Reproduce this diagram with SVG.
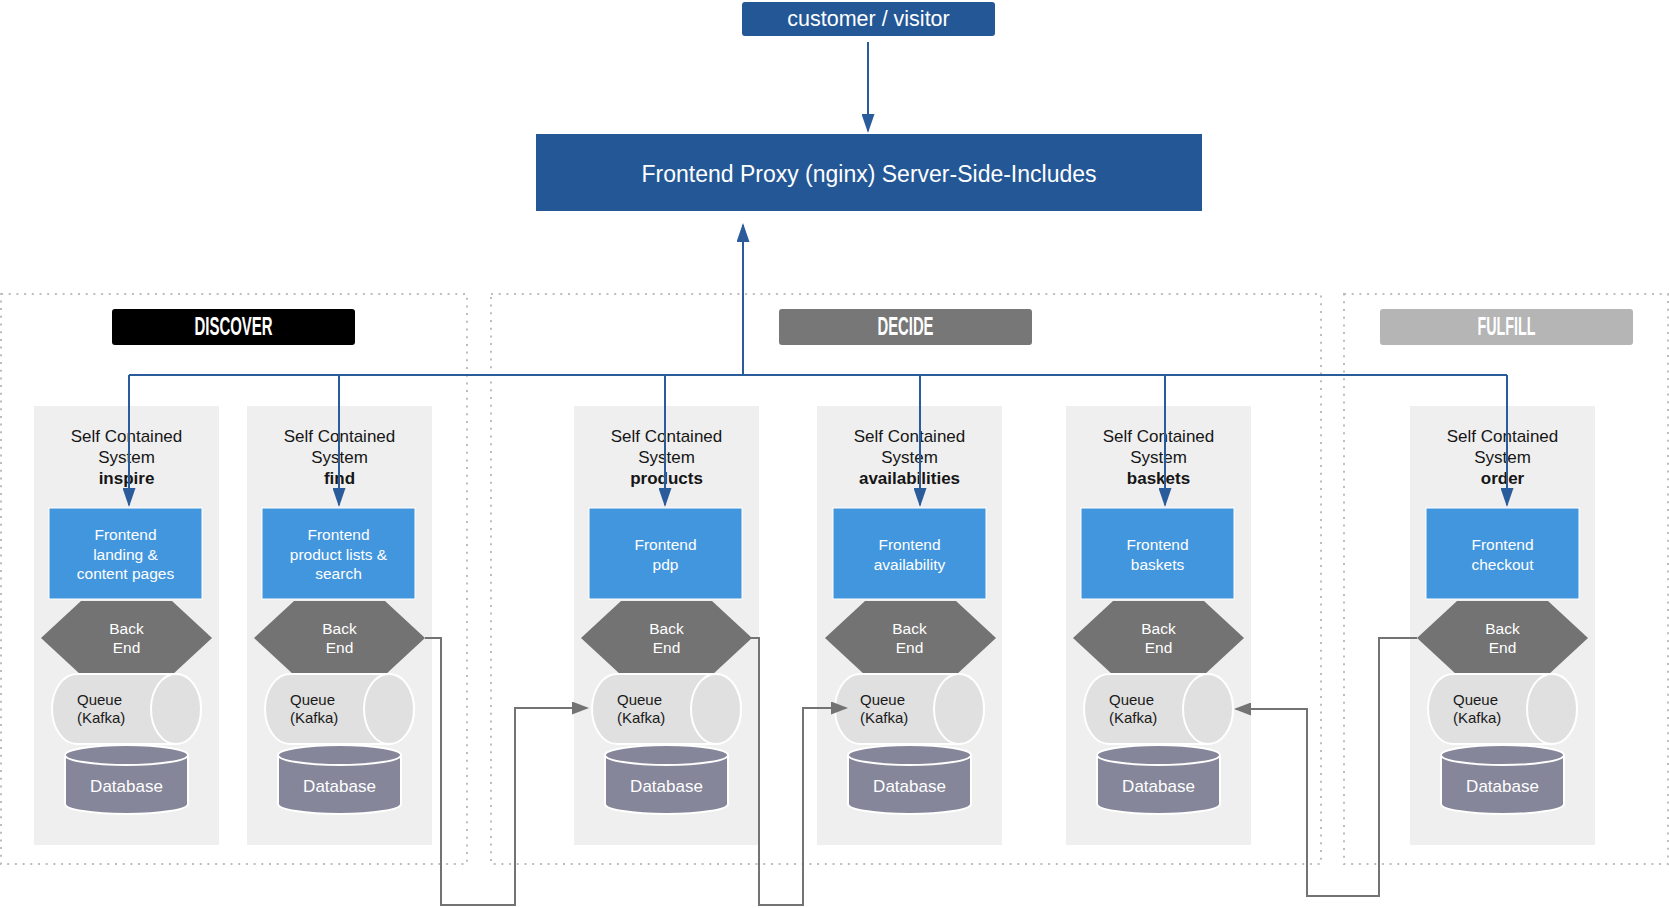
<svg xmlns="http://www.w3.org/2000/svg" width="1669" height="908" viewBox="0 0 1669 908">
  <style>
    .zone { fill: none; stroke: #bdbdbd; stroke-width: 2; stroke-dasharray: 2 5.7; }
    .phase { font-family: "Liberation Sans Narrow", "Liberation Sans", Arial, sans-serif; font-weight: bold; font-size: 25px; fill: #ffffff; text-anchor: middle; }
    .card { fill: #efefef; }
    .title { font-family: "Liberation Sans", Arial, sans-serif; font-size: 17px; fill: #161616; text-anchor: middle; }
    .title tspan.name { font-weight: bold; }
    .fe { fill: #4296de; stroke: #ffffff; stroke-width: 1; }
    .fe-t { font-family: "Liberation Sans", Arial, sans-serif; font-size: 15.5px; fill: #ffffff; text-anchor: middle; }
    .be { fill: #737373; }
    .be-t { font-family: "Liberation Sans", Arial, sans-serif; font-size: 15.5px; fill: #ffffff; text-anchor: middle; }
    .q { fill: #e0e0e0; stroke: #ffffff; stroke-width: 2; }
    .q-t { font-family: "Liberation Sans", Arial, sans-serif; font-size: 15px; fill: #1a1a1a; }
    .db { fill: #85869a; stroke: #ffffff; stroke-width: 2; }
    .db-t { font-family: "Liberation Sans", Arial, sans-serif; font-size: 17px; fill: #ffffff; text-anchor: middle; }
    .top { fill: #245796; }
    .top-t { font-family: "Liberation Sans", Arial, sans-serif; fill: #ffffff; text-anchor: middle; }
    .link { fill: none; stroke: #2a5c9c; stroke-width: 2; }
    .event { fill: none; stroke: #737373; stroke-width: 2; }
  </style>
  <defs>
    <marker id="arrow-blue" viewBox="0 0 19 13" markerWidth="19" markerHeight="13" refX="17" refY="6.5" orient="auto" markerUnits="userSpaceOnUse">
      <path d="M0,0 L19,6.5 L0,13 Z" fill="#2a5c9c"/>
    </marker>
    <marker id="arrow-grey" viewBox="0 0 17 13" markerWidth="17" markerHeight="13" refX="15" refY="6.5" orient="auto" markerUnits="userSpaceOnUse">
      <path d="M0,0 L17,6.5 L0,13 Z" fill="#737373"/>
    </marker>
  </defs>

  <rect width="1669" height="908" fill="#ffffff"/>

  <!-- phase zones -->
  <g id="zones">
    <rect class="zone" x="1" y="294" width="466" height="570"/>
    <rect class="zone" x="491" y="294" width="830" height="570"/>
    <rect class="zone" x="1344" y="294" width="324" height="570"/>
  </g>

  <g id="phase-discover">
    <rect x="112" y="309" width="243" height="36" rx="3" fill="#000000"/>
    <text class="phase" x="233.5" y="335" textLength="78" lengthAdjust="spacingAndGlyphs">DISCOVER</text>
  </g>
  <g id="phase-decide">
    <rect x="779" y="309" width="253" height="36" rx="3" fill="#777777"/>
    <text class="phase" x="905.5" y="335" textLength="56" lengthAdjust="spacingAndGlyphs">DECIDE</text>
  </g>
  <g id="phase-fulfill">
    <rect x="1380" y="309" width="253" height="36" rx="3" fill="#b5b5b5"/>
    <text class="phase" x="1506.5" y="335" textLength="58" lengthAdjust="spacingAndGlyphs">FULFILL</text>
  </g>

  <!-- entry points -->
  <g id="customer">
    <rect class="top" x="742" y="2" width="253" height="34" rx="3"/>
    <text class="top-t" x="868.5" y="26" font-size="21.5">customer / visitor</text>
  </g>
  <g id="proxy">
    <rect class="top" x="536" y="134" width="666" height="77"/>
    <text class="top-t" x="869" y="182" font-size="23">Frontend Proxy (nginx) Server-Side-Includes</text>
  </g>

  <!-- self contained systems -->
  <g id="sys-inspire" transform="translate(34,0)">
    <rect class="card" x="0" y="406" width="185" height="439"/>
    <text class="title" x="92.5" y="442">Self Contained</text>
    <text class="title" x="92.5" y="463">System</text>
    <text class="title" x="92.5" y="484"><tspan class="name">inspire</tspan></text>
    <rect class="fe" x="15" y="508" width="153" height="91"/>
    <text class="fe-t" x="91.5" y="540">Frontend</text>
    <text class="fe-t" x="91.5" y="559.5">landing &amp;</text>
    <text class="fe-t" x="91.5" y="579">content pages</text>
    <polygon class="be" points="7,638 47,601 138,601 178,638 138,675 47,675"/>
    <text class="be-t" x="92.5" y="634">Back</text>
    <text class="be-t" x="92.5" y="653">End</text>
    <path class="q" d="M43,674 L142,674 A25,35 0 0 1 142,744 L43,744 A25,35 0 0 1 43,674 Z"/>
    <ellipse class="q" cx="142" cy="709" rx="25" ry="35"/>
    <text class="q-t" x="43" y="705">Queue</text>
    <text class="q-t" x="43" y="723">(Kafka)</text>
    <path class="db" d="M31,755 L31,804 A61.5,10 0 0 0 154,804 L154,755 Z"/>
    <ellipse class="db" cx="92.5" cy="755" rx="61.5" ry="10"/>
    <text class="db-t" x="92.5" y="792">Database</text>
  </g>

  <g id="sys-find" transform="translate(247,0)">
    <rect class="card" x="0" y="406" width="185" height="439"/>
    <text class="title" x="92.5" y="442">Self Contained</text>
    <text class="title" x="92.5" y="463">System</text>
    <text class="title" x="92.5" y="484"><tspan class="name">find</tspan></text>
    <rect class="fe" x="15" y="508" width="153" height="91"/>
    <text class="fe-t" x="91.5" y="540">Frontend</text>
    <text class="fe-t" x="91.5" y="559.5">product lists &amp;</text>
    <text class="fe-t" x="91.5" y="579">search</text>
    <polygon class="be" points="7,638 47,601 138,601 178,638 138,675 47,675"/>
    <text class="be-t" x="92.5" y="634">Back</text>
    <text class="be-t" x="92.5" y="653">End</text>
    <path class="q" d="M43,674 L142,674 A25,35 0 0 1 142,744 L43,744 A25,35 0 0 1 43,674 Z"/>
    <ellipse class="q" cx="142" cy="709" rx="25" ry="35"/>
    <text class="q-t" x="43" y="705">Queue</text>
    <text class="q-t" x="43" y="723">(Kafka)</text>
    <path class="db" d="M31,755 L31,804 A61.5,10 0 0 0 154,804 L154,755 Z"/>
    <ellipse class="db" cx="92.5" cy="755" rx="61.5" ry="10"/>
    <text class="db-t" x="92.5" y="792">Database</text>
  </g>

  <g id="sys-products" transform="translate(574,0)">
    <rect class="card" x="0" y="406" width="185" height="439"/>
    <text class="title" x="92.5" y="442">Self Contained</text>
    <text class="title" x="92.5" y="463">System</text>
    <text class="title" x="92.5" y="484"><tspan class="name">products</tspan></text>
    <rect class="fe" x="15" y="508" width="153" height="91"/>
    <text class="fe-t" x="91.5" y="550">Frontend</text>
    <text class="fe-t" x="91.5" y="569.5">pdp</text>
    <polygon class="be" points="7,638 47,601 138,601 178,638 138,675 47,675"/>
    <text class="be-t" x="92.5" y="634">Back</text>
    <text class="be-t" x="92.5" y="653">End</text>
    <path class="q" d="M43,674 L142,674 A25,35 0 0 1 142,744 L43,744 A25,35 0 0 1 43,674 Z"/>
    <ellipse class="q" cx="142" cy="709" rx="25" ry="35"/>
    <text class="q-t" x="43" y="705">Queue</text>
    <text class="q-t" x="43" y="723">(Kafka)</text>
    <path class="db" d="M31,755 L31,804 A61.5,10 0 0 0 154,804 L154,755 Z"/>
    <ellipse class="db" cx="92.5" cy="755" rx="61.5" ry="10"/>
    <text class="db-t" x="92.5" y="792">Database</text>
  </g>

  <g id="sys-availabilities" transform="translate(817,0)">
    <rect class="card" x="0" y="406" width="185" height="439"/>
    <text class="title" x="92.5" y="442">Self Contained</text>
    <text class="title" x="92.5" y="463">System</text>
    <text class="title" x="92.5" y="484"><tspan class="name">availabilities</tspan></text>
    <rect class="fe" x="16" y="508" width="153" height="91"/>
    <text class="fe-t" x="92.5" y="550">Frontend</text>
    <text class="fe-t" x="92.5" y="569.5">availability</text>
    <polygon class="be" points="8,638 48,601 139,601 179,638 139,675 48,675"/>
    <text class="be-t" x="92.5" y="634">Back</text>
    <text class="be-t" x="92.5" y="653">End</text>
    <path class="q" d="M43,674 L142,674 A25,35 0 0 1 142,744 L43,744 A25,35 0 0 1 43,674 Z"/>
    <ellipse class="q" cx="142" cy="709" rx="25" ry="35"/>
    <text class="q-t" x="43" y="705">Queue</text>
    <text class="q-t" x="43" y="723">(Kafka)</text>
    <path class="db" d="M31,755 L31,804 A61.5,10 0 0 0 154,804 L154,755 Z"/>
    <ellipse class="db" cx="92.5" cy="755" rx="61.5" ry="10"/>
    <text class="db-t" x="92.5" y="792">Database</text>
  </g>

  <g id="sys-baskets" transform="translate(1066,0)">
    <rect class="card" x="0" y="406" width="185" height="439"/>
    <text class="title" x="92.5" y="442">Self Contained</text>
    <text class="title" x="92.5" y="463">System</text>
    <text class="title" x="92.5" y="484"><tspan class="name">baskets</tspan></text>
    <rect class="fe" x="15" y="508" width="153" height="91"/>
    <text class="fe-t" x="91.5" y="550">Frontend</text>
    <text class="fe-t" x="91.5" y="569.5">baskets</text>
    <polygon class="be" points="7,638 47,601 138,601 178,638 138,675 47,675"/>
    <text class="be-t" x="92.5" y="634">Back</text>
    <text class="be-t" x="92.5" y="653">End</text>
    <path class="q" d="M43,674 L142,674 A25,35 0 0 1 142,744 L43,744 A25,35 0 0 1 43,674 Z"/>
    <ellipse class="q" cx="142" cy="709" rx="25" ry="35"/>
    <text class="q-t" x="43" y="705">Queue</text>
    <text class="q-t" x="43" y="723">(Kafka)</text>
    <path class="db" d="M31,755 L31,804 A61.5,10 0 0 0 154,804 L154,755 Z"/>
    <ellipse class="db" cx="92.5" cy="755" rx="61.5" ry="10"/>
    <text class="db-t" x="92.5" y="792">Database</text>
  </g>

  <g id="sys-order" transform="translate(1410,0)">
    <rect class="card" x="0" y="406" width="185" height="439"/>
    <text class="title" x="92.5" y="442">Self Contained</text>
    <text class="title" x="92.5" y="463">System</text>
    <text class="title" x="92.5" y="484"><tspan class="name">order</tspan></text>
    <rect class="fe" x="16" y="508" width="153" height="91"/>
    <text class="fe-t" x="92.5" y="550">Frontend</text>
    <text class="fe-t" x="92.5" y="569.5">checkout</text>
    <polygon class="be" points="7,638 47,601 138,601 178,638 138,675 47,675"/>
    <text class="be-t" x="92.5" y="634">Back</text>
    <text class="be-t" x="92.5" y="653">End</text>
    <path class="q" d="M43,674 L142,674 A25,35 0 0 1 142,744 L43,744 A25,35 0 0 1 43,674 Z"/>
    <ellipse class="q" cx="142" cy="709" rx="25" ry="35"/>
    <text class="q-t" x="43" y="705">Queue</text>
    <text class="q-t" x="43" y="723">(Kafka)</text>
    <path class="db" d="M31,755 L31,804 A61.5,10 0 0 0 154,804 L154,755 Z"/>
    <ellipse class="db" cx="92.5" cy="755" rx="61.5" ry="10"/>
    <text class="db-t" x="92.5" y="792">Database</text>
  </g>

  <!-- connectors -->
  <g id="connectors">
    <path class="link" d="M868,42 L868,131" marker-end="url(#arrow-blue)"/>
    <path class="link" d="M743,375 L743,225" marker-end="url(#arrow-blue)"/>
    <path class="link" d="M129,375 L1507,375"/>
    <path class="link" d="M129,375 L129,505" marker-end="url(#arrow-blue)"/>
    <path class="link" d="M339,375 L339,505" marker-end="url(#arrow-blue)"/>
    <path class="link" d="M665,375 L665,505" marker-end="url(#arrow-blue)"/>
    <path class="link" d="M920,375 L920,505" marker-end="url(#arrow-blue)"/>
    <path class="link" d="M1165,375 L1165,505" marker-end="url(#arrow-blue)"/>
    <path class="link" d="M1507,375 L1507,505" marker-end="url(#arrow-blue)"/>

    <path class="event" d="M425,638 L441,638 L441,905 L515,905 L515,708 L587,708" marker-end="url(#arrow-grey)"/>
    <path class="event" d="M750,638 L759,638 L759,905 L803,905 L803,708 L846,708" marker-end="url(#arrow-grey)"/>
    <path class="event" d="M1417,638 L1379,638 L1379,896 L1307,896 L1307,709 L1236,709" marker-end="url(#arrow-grey)"/>
  </g>
</svg>
